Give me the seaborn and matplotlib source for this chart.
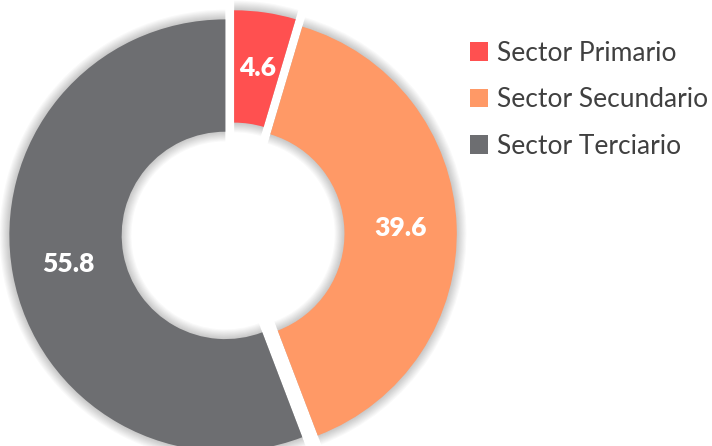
import numpy as np
import matplotlib
matplotlib.use("Agg")
import matplotlib.pyplot as plt
from matplotlib.patches import Patch
import seaborn as sns

sectors = ["Sector Primario", "Sector Secundario", "Sector Terciario"]
values = [4.6, 39.6, 55.8]
colors = ["#FF5050", "#FF9966", "#6D6E71"]

sns.set_theme(style="white")
plt.rcParams['font.family'] = ['Lato', 'DejaVu Sans']

fig = plt.figure(figsize=(7.12, 4.46), dpi=100)
W, H = 712, 446
cx, cy, R = 233, 234, 216
half = 1.2 * R
ax = fig.add_axes([(cx - half) / W, (H - cy - half) / H, 2 * half / W, 2 * half / H])

explode = [0.036] * 3
ring = 0.52

# soft shadow behind the slices
for k in range(10):
    ax.pie(values, radius=1 + 0.005 * k, explode=explode, startangle=90, counterclock=False,
           colors=["black"] * 3,
           wedgeprops=dict(width=ring + 0.01 * k, alpha=0.024, linewidth=0))

wedges, _, autotexts = ax.pie(
    values, radius=1, explode=explode, startangle=90, counterclock=False,
    colors=colors, autopct=lambda p: f"{p:.1f}", pctdistance=0.74,
    wedgeprops=dict(width=ring, linewidth=0),
    textprops=dict(color="white", fontsize=19, fontweight="heavy"))

ax.set_xlim(-1.2, 1.2)
ax.set_ylim(-1.2, 1.2)
ax.set_aspect("equal")
ax.axis("off")

handles = [Patch(facecolor=c, edgecolor="none") for c in colors]
fig.legend(handles, sectors, loc="upper left", bbox_to_anchor=(459 / W, 1 - 30 / H),
           frameon=False, fontsize=19, labelcolor="#404040",
           handlelength=0.7, handleheight=0.7, handletextpad=0.35,
           labelspacing=0.82, borderaxespad=0)

fig.savefig("out.png", dpi=100, facecolor="white")
